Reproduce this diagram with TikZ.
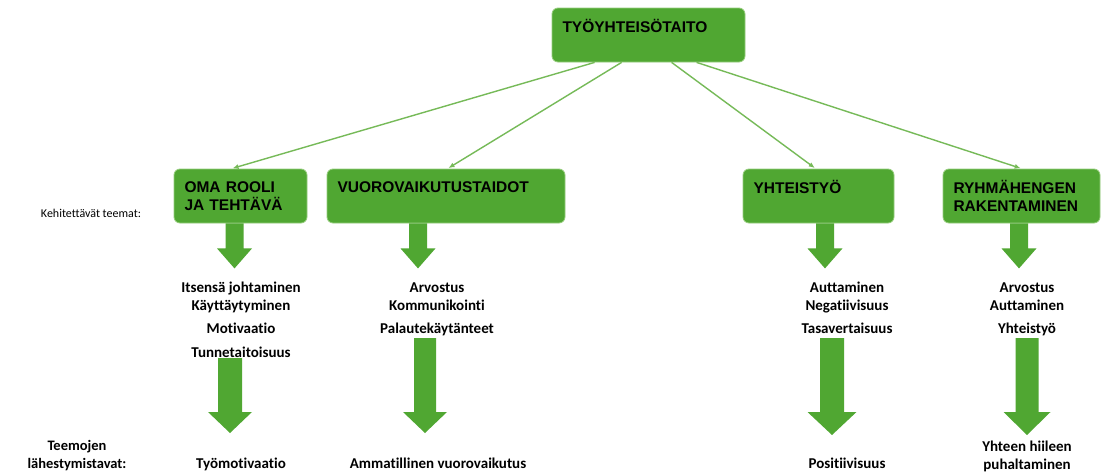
\documentclass[tikz,border=0pt]{standalone}
\usepackage{fontspec}
\setmainfont{Carlito}[Ligatures=NoCommon]
\newfontfamily\boxfont{Liberation Sans}
\usetikzlibrary{positioning,calc,arrows.meta}

\definecolor{boxgreen}{RGB}{80,167,50}
\definecolor{boxedge}{RGB}{150,205,125}
\definecolor{linegreen}{RGB}{118,186,88}

% big down arrow: start, stem half width, head half width, stem length, head length
\newcommand{\bigarrow}[5]{%
  \fill[boxgreen] #1 ++(-#2,0) -- ++(0,#4) -- ++({-(#3-#2)},0) -- ++(#3,#5)
    -- ++(#3,-#5) -- ++({-(#3-#2)},0) -- ++(0,-#4) -- cycle;}

\begin{document}
\begin{tikzpicture}[
    x=1pt, y=-1pt,
    theme/.style={
        rectangle,
        rounded corners=6pt,
        fill=boxgreen,
        draw=boxedge,
        line width=0.8pt,
        minimum height=54pt,
        inner xsep=10.5pt,
        inner ysep=0pt,
        align=left,
        font=\boxfont\bfseries\fontsize{15.5}{17.5}\selectfont
    },
    link/.style={
        draw=linegreen,
        line width=1.4pt,
        -{Latex[length=6pt,width=5pt]},
        shorten >=1pt
    },
    item/.style={
        align=center,
        inner sep=0pt,
        anchor=base,
        font=\bfseries\fontsize{15}{18}\selectfont
    }
]
    \useasboundingbox[fill=white] (0,0) rectangle (1109,474);

    % Nodes
    \node [theme, text width=172pt] (top) at (648.5,35) {TYÖYHTEISÖTAITO\\\mbox{}};

    \node [theme, text width=112pt] (oma) at (240.5,196) {OMA ROOLI\\JA TEHTÄVÄ};
    \node [theme, text width=217pt] (vuoro) at (446,196) {VUOROVAIKUTUSTAIDOT\\\mbox{}};
    \node [theme, text width=130pt] (yhteis) at (818.5,196) {YHTEISTYÖ\\\mbox{}};
    \node [theme, text width=136pt] (ryhma) at (1021.5,196) {RYHMÄHENGEN\\RAKENTAMINEN};

    % Edges
    \draw [link] ($(top.south west)+(43,0)$) -- ($(oma.north west)+(58,0)$);
    \draw [link] ($(top.south west)+(70,0)$) -- ($(vuoro.north west)+(121,0)$);
    \draw [link] ($(top.south west)+(120,0)$) -- ($(yhteis.north west)+(73,0)$);
    \draw [link] ($(top.south west)+(145,0)$) -- ($(ryhma.north west)+(79,0)$);

    \bigarrow{($(oma.south)+(-6,0)$)}{9}{17.5}{25}{20}
    \bigarrow{($(vuoro.south)+(-28,0)$)}{9}{17.5}{25}{20}
    \bigarrow{($(yhteis.south)+(6.5,0)$)}{9}{17.5}{25}{20}
    \bigarrow{($(ryhma.south)+(-2.5,0)$)}{9}{17.5}{25}{20}

    % Themes (base = last line)
    \node [item] (teemat1) at (241,357) {Itsensä johtaminen\\Käyttäytyminen\\[5pt]Motivaatio\\[6pt]Tunnetaitoisuus};
    \node [item] (teemat2) at (437,333) {Arvostus\\Kommunikointi\\[5pt]Palautekäytänteet};
    \node [item] (teemat3) at (847,333) {Auttaminen\\Negatiivisuus\\[5pt]Tasavertaisuus};
    \node [item] (teemat4) at (1027,333) {Arvostus\\Auttaminen\\[5pt]Yhteistyö};

    \coordinate (a1) at (230,358);
    \coordinate (a2) at (425,338);
    \coordinate (a3) at (832,338);
    \coordinate (a4) at (1027,338);
    \bigarrow{(a1)}{12}{22}{54}{21}
    \bigarrow{(a2)}{11}{22}{74}{21}
    \bigarrow{(a3)}{12}{24.5}{74}{23}
    \bigarrow{(a4)}{11.5}{23.5}{74}{23}

    % Approaches
    \node [item] (tapa1) at (241,468) {Työmotivaatio};
    \node [item] (tapa2) at (438,468) {Ammatillinen vuorovaikutus};
    \node [item] (tapa3) at (847,468) {Positiivisuus};
    \node [item] (tapa4) at (1027,469) {Yhteen hiileen\\puhaltaminen};

    % Row labels
    \node [anchor=base, font=\fontsize{12}{14}\selectfont] (kehit) at (91,217) {Kehitettävät teemat:};
    \node [item, font=\bfseries\fontsize{14.5}{18}\selectfont] (lahest) at (77,468) {Teemojen\\lähestymistavat:};

\end{tikzpicture}
\end{document}
